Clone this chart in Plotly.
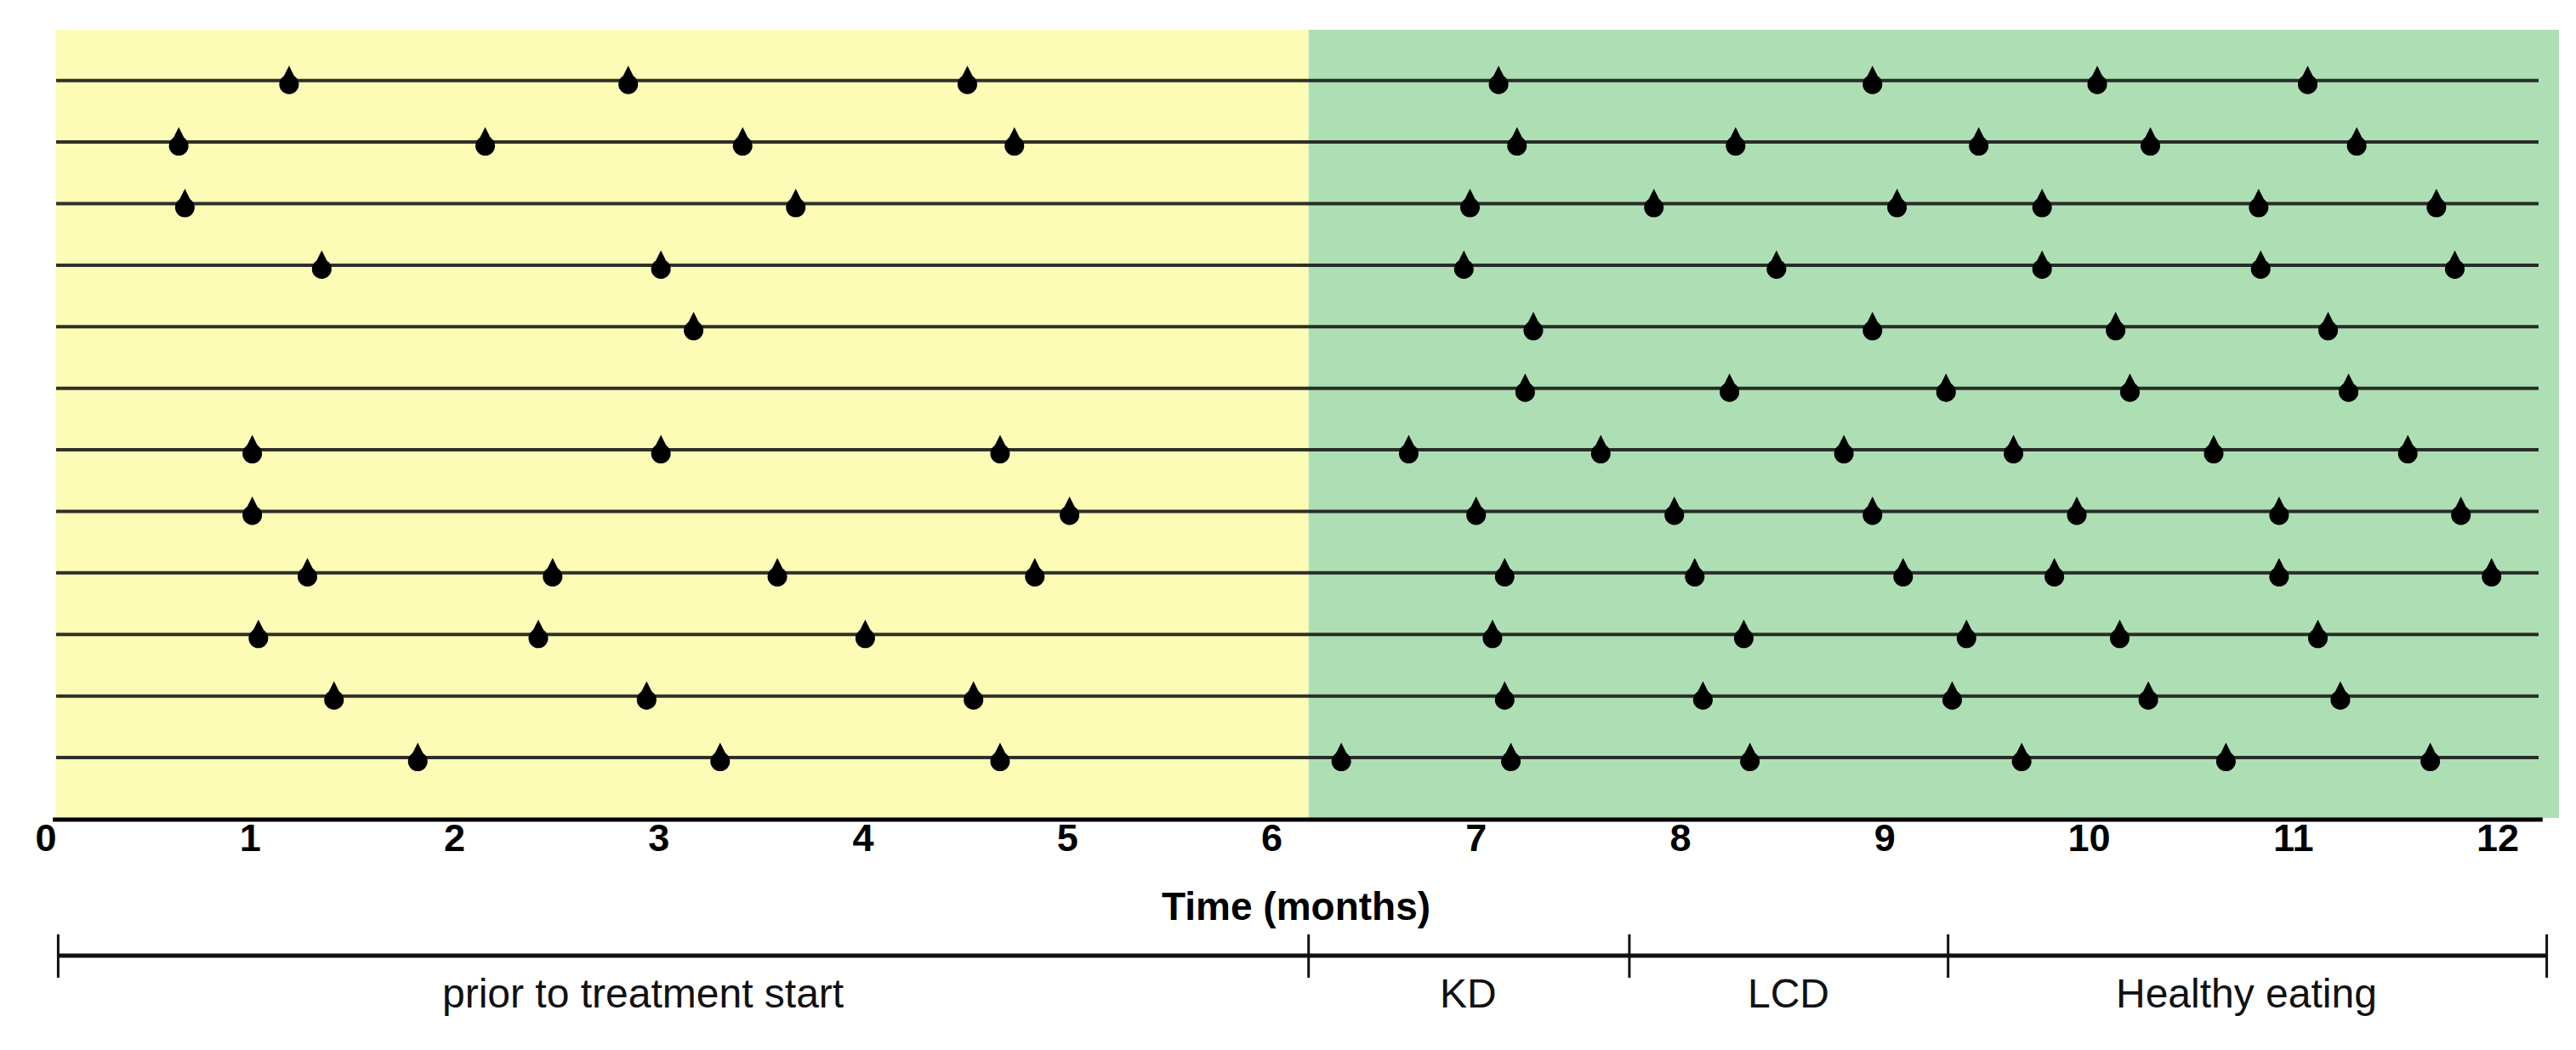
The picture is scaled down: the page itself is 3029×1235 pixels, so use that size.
import plotly.graph_objects as go

# ---------------- data (months) ----------------
month_ticks = list(range(0, 13))
month_labels = [str(m) for m in month_ticks]

# event times per participant (top row first)
p01 = [1.19, 2.85, 4.51, 7.11, 8.94, 10.04, 11.07]
p02 = [0.65, 2.15, 3.41, 4.74, 7.20, 8.27, 9.46, 10.30, 11.31]
p03 = [0.68, 3.67, 6.97, 7.87, 9.06, 9.77, 10.83, 11.70]
p04 = [1.35, 3.01, 6.94, 8.47, 9.77, 10.84, 11.79]
p05 = [3.17, 7.28, 8.94, 10.13, 11.17]
p06 = [7.24, 8.24, 9.30, 10.20, 11.27]
p07 = [1.01, 3.01, 4.67, 6.67, 7.61, 8.80, 9.63, 10.61, 11.56]
p08 = [1.01, 5.01, 7.00, 7.97, 8.94, 9.94, 10.93, 11.82]
p09 = [1.28, 2.48, 3.58, 4.84, 7.14, 8.07, 9.09, 9.83, 10.93, 11.97]
p10 = [1.04, 2.41, 4.01, 7.08, 8.31, 9.40, 10.15, 11.12]
p11 = [1.41, 2.94, 4.54, 7.14, 8.11, 9.33, 10.29, 11.23]
p12 = [1.82, 3.30, 4.67, 6.34, 7.17, 8.34, 9.67, 10.67, 11.67]
participants = [p01, p02, p03, p04, p05, p06, p07, p08, p09, p10, p11, p12]

row_line_start = 0.05
row_line_end = 12.20

phase_names = ["prior to treatment start", "KD", "LCD", "Healthy eating"]
phase_bounds = [0.06, 6.18, 7.75, 9.31, 12.24]
phase_label_x = [2.92, 6.96, 8.53, 10.77]

pre_start, treat_start, treat_end = 0.047, 6.18, 12.30

# ---------------- geometry / style ----------------
W, H = 3029, 1235
ML, MR, MT, MB = 46, 28, 27, 281
X_RANGE = [0, 12.30]
Y_RANGE = [12.98, 0.175]
plot_h = H - MT - MB
px_per_row = plot_h / (Y_RANGE[0] - Y_RANGE[1])

FONT = "Liberation Sans, Arial, Helvetica, sans-serif"
YELLOW = "#fdfcb6"
GREEN = "#aedfb4"


def ypaper(offset_px):
    """offset in px below the bottom of the plotting area -> paper coordinate"""
    return -offset_px / plot_h


fig = go.Figure()

# row lines
lx, ly = [], []
for i, _ in enumerate(participants):
    lx += [row_line_start, row_line_end, None]
    ly += [i + 1, i + 1, None]
fig.add_trace(go.Scatter(x=lx, y=ly, mode="lines",
                         line=dict(color="rgba(25,25,25,0.9)", width=4),
                         hoverinfo="skip", showlegend=False))

# tear-drop markers: round body + pointed tip
bx, by, tx, ty = [], [], [], []
for i, ev in enumerate(participants):
    for t in ev:
        bx.append(t)
        by.append(i + 1 + 4.5 / px_per_row)
        tx.append(t)
        ty.append(i + 1 - 17.5 / px_per_row)
fig.add_trace(go.Scatter(x=bx, y=by, mode="markers",
                         marker=dict(symbol="circle", size=23, color="black",
                                     line=dict(width=0)),
                         hoverinfo="skip", showlegend=False))
fig.add_trace(go.Scatter(x=tx, y=ty, mode="markers",
                         marker=dict(symbol="arrow-up", size=21, color="black",
                                     line=dict(width=0)),
                         hoverinfo="skip", showlegend=False))

shapes = []
# background periods
shapes.append(dict(type="rect", xref="x", yref="paper", x0=pre_start, x1=treat_start,
                   y0=0, y1=1, fillcolor=YELLOW, line=dict(width=0), layer="below"))
shapes.append(dict(type="rect", xref="x", yref="paper", x0=treat_start, x1=treat_end,
                   y0=0, y1=1, fillcolor=GREEN, line=dict(width=0), layer="below"))
# x axis line
shapes.append(dict(type="line", xref="x", yref="paper", x0=0.034, x1=12.22,
                   y0=ypaper(2), y1=ypaper(2), line=dict(color="black", width=5)))
# phase timeline
shapes.append(dict(type="line", xref="x", yref="paper", x0=phase_bounds[0], x1=phase_bounds[-1],
                   y0=ypaper(162), y1=ypaper(162), line=dict(color="#111111", width=5)))
for b in phase_bounds:
    shapes.append(dict(type="line", xref="x", yref="paper", x0=b, x1=b,
                       y0=ypaper(137), y1=ypaper(188), line=dict(color="#111111", width=3)))

annotations = [dict(text="Time (months)", xref="paper", yref="paper", x=0.4975, y=ypaper(104),
                    xanchor="center", yanchor="middle", showarrow=False,
                    font=dict(family=FONT, size=46, color="black", weight="bold"))]
for name, xpos in zip(phase_names, phase_label_x):
    annotations.append(dict(text=name, xref="x", yref="paper", x=xpos, y=ypaper(206),
                            xanchor="center", yanchor="middle", showarrow=False,
                            font=dict(family=FONT, size=48, color="#111111")))

fig.update_layout(
    width=W, height=H,
    margin=dict(l=ML, r=MR, t=MT, b=MB, pad=0),
    paper_bgcolor="white", plot_bgcolor="white",
    shapes=shapes, annotations=annotations, showlegend=False,
    xaxis=dict(range=X_RANGE, tickvals=month_ticks, ticktext=month_labels,
               showgrid=False, zeroline=False, showline=False, ticks="",
               ticklabelstandoff=-7,
               tickfont=dict(family=FONT, size=45, color="black", weight="bold"),
               fixedrange=True),
    yaxis=dict(range=Y_RANGE, showgrid=False, zeroline=False, showline=False,
               showticklabels=False, ticks="", fixedrange=True),
)

fig.write_html("out.html")
